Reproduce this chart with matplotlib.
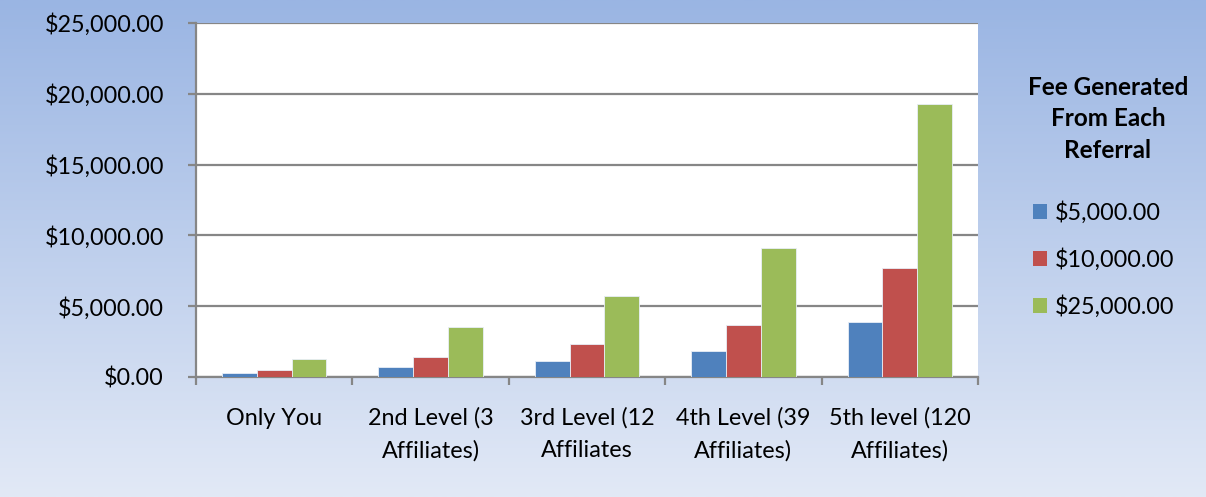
import numpy as np
import matplotlib
matplotlib.use("Agg")
import matplotlib.pyplot as plt
from matplotlib.colors import LinearSegmentedColormap
from matplotlib.patches import Patch

categories = ["Only You", "2nd Level (3\nAffiliates)", "3rd Level (12\nAffiliates",
              "4th Level (39\nAffiliates)", "5th level (120\nAffiliates)"]
series_names = ["$5,000.00", "$10,000.00", "$25,000.00"]
fee_5000 = [250, 700, 1150, 1820, 3850]
fee_10000 = [500, 1400, 2300, 3640, 7700]
fee_25000 = [1250, 3500, 5750, 9100, 19250]
y_ticks = [0, 5000, 10000, 15000, 20000, 25000]
legend_title = "Fee Generated\nFrom Each\nReferral"

colors = ["#4f81bd", "#c0504d", "#9bbb59"]
plt.rcParams['font.family'] = ['Lato', 'DejaVu Sans']
FS = 16.8

W, H = 1206, 497
fig = plt.figure(figsize=(W / 100, H / 100), dpi=100)

# background gradient
bg = fig.add_axes([0, 0, 1, 1], zorder=-10)
cmap = LinearSegmentedColormap.from_list("bg", ["#9ab5e3", "#e2e9f6"])
grad = np.linspace(0, 1, 256).reshape(-1, 1)
bg.imshow(grad, aspect="auto", cmap=cmap, extent=[0, 1, 0, 1], origin="upper")
bg.axis("off")

left, right, top, bottom = 196, 978, 23, 377
ax = fig.add_axes([left / W, 1 - bottom / H, (right - left) / W, (bottom - top) / H])
ax.set_facecolor("white")

n = len(categories)
x = np.arange(n)
bw = 1 / 4.5
data = [fee_5000, fee_10000, fee_25000]
for i, (vals, c, name) in enumerate(zip(data, colors, series_names)):
    ax.bar(x + (i - 1) * bw, vals, width=bw, color=c, edgecolor="#e8eef7",
           linewidth=0.6, label=name, zorder=3)

ax.set_xlim(-0.5, n - 0.5)
ax.set_ylim(0, 25000)
ax.set_yticks(y_ticks)
ax.set_yticklabels([f"${v:,.2f}" for v in y_ticks], fontsize=FS)
ax.yaxis.grid(True, color="#868686", linewidth=1.6, zorder=0)
ax.set_axisbelow(True)

ax.set_xticks(np.arange(-0.5, n, 1))
ax.set_xticklabels([])
ax.set_xticks(x, minor=True)
ax.set_xticklabels(categories, minor=True, fontsize=FS, linespacing=1.62)
ax.tick_params(axis="x", which="minor", length=0, pad=22)
ax.tick_params(axis="x", which="major", length=5.5, width=1.6, color="#868686")
ax.tick_params(axis="y", length=6, width=1.6, color="#868686", pad=17)
for s in ["top", "right"]:
    ax.spines[s].set_visible(False)
for s in ["left", "bottom"]:
    ax.spines[s].set_color("#868686")
    ax.spines[s].set_linewidth(1.6)

# legend
fig.text(1108 / W, 1 - 119 / H, legend_title, ha="center", va="center",
         fontsize=17.5, fontweight="bold", linespacing=1.47)
handles = [Patch(facecolor=c, edgecolor="none") for c in colors]
leg = fig.legend(handles, series_names, loc="upper left",
                 bbox_to_anchor=(1012 / W, 1 - 180 / H), frameon=False,
                 fontsize=FS, handlelength=0.6, handleheight=0.6,
                 handletextpad=0.34, labelspacing=1.05)

fig.savefig("out.png", dpi=100)
